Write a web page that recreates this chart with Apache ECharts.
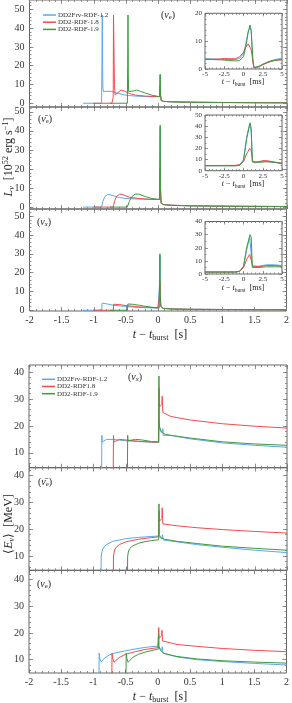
<!DOCTYPE html>
<html><head><meta charset="utf-8">
<script src="https://cdn.jsdelivr.net/npm/echarts@6/dist/echarts.min.js"></script>
<style>html,body{margin:0;padding:0;background:#fff}#c{width:292px;height:703px}</style>
</head><body><div id="c"></div>
<script>
// ---------- tick labels ----------
const xTicks = [-2, -1.5, -1, -0.5, 0, 0.5, 1, 1.5, 2];
const lumTicks = [0, 10, 20, 30, 40, 50];
const enTicks = [10, 20, 30, 40];
const insetXTicks = [-5, -2.5, 0, 2.5, 5];
const inset1YTicks = [0, 10, 20];
const inset2YTicks = [0, 10, 20, 30, 40, 50];
const inset3YTicks = [0, 10, 20, 30, 40];
const namesTop = ['DD2Frv-RDF-1.2', 'DD2-RDF-1.8', 'DD2-RDF-1.9'];
const namesBot = ['DD2Frv-RDF-1.2', 'DD2-RDF1.8', 'DD2-RDF-1.9'];

// ---------- luminosity nu_e [t(s), L] ----------
const lumNueBlue = [[-1.17,0],[-0.88,0],[-0.875,20],[-0.87,47],[-0.865,20],[-0.86,8],[-0.85,6.2],[-0.83,6],[-0.8,6.4],[-0.77,6.7],[-0.72,6.3],[-0.65,5.5],[-0.55,4.6],[-0.45,4.1],[-0.35,3.8],[-0.2,3.6],[-0.05,3.5],[0.02,3.5],[0.025,10],[0.03,15],[0.035,5],[0.045,1.5],[0.08,1],[0.2,0.8],[0.5,0.6],[1,0.4],[1.5,0.3],[2,0.25]];
const lumNueRed = [[-1.01,0],[-0.72,0],[-0.70,3],[-0.695,47],[-0.685,47],[-0.68,10],[-0.67,4.5],[-0.63,5.5],[-0.58,7],[-0.53,6.5],[-0.45,5.2],[-0.35,4.3],[-0.2,3.8],[0.02,3.5],[0.025,6],[0.03,9],[0.035,4],[0.045,1.5],[0.08,1],[0.2,0.8],[0.5,0.6],[1,0.4],[1.5,0.3],[2,0.25]];
const lumNueGreen = [[-0.75,0],[-0.48,0],[-0.475,20],[-0.47,47],[-0.465,15],[-0.46,6.2],[-0.43,6],[-0.38,6.6],[-0.34,7],[-0.28,6.4],[-0.2,5.4],[-0.1,4.3],[0.02,3.5],[0.025,10],[0.03,15.5],[0.035,5],[0.045,1.5],[0.08,1],[0.2,0.7],[0.5,0.5],[1,0.35],[1.5,0.25],[2,0.2]];
// ---------- luminosity anti nu_e ----------
const lumAnueBlue = [[-1.17,0],[-0.88,0],[-0.86,3],[-0.83,5.5],[-0.79,6.5],[-0.75,6.5],[-0.7,6],[-0.6,5],[-0.5,4.5],[-0.3,4.2],[0.02,4],[0.025,20],[0.03,42],[0.035,10],[0.045,2],[0.08,1.3],[0.2,1],[0.5,0.7],[1,0.5],[1.5,0.4],[2,0.3]];
const lumAnueRed = [[-1.01,0],[-0.70,0],[-0.68,3],[-0.65,5.5],[-0.6,6.8],[-0.55,6.5],[-0.45,5.2],[-0.3,4.5],[-0.1,4],[0.02,4],[0.025,12],[0.03,20],[0.035,6],[0.045,2],[0.08,1.3],[0.2,1],[0.5,0.7],[1,0.5],[1.5,0.4],[2,0.3]];
const lumAnueGreen = [[-0.75,0],[-0.48,0],[-0.45,3],[-0.41,5.5],[-0.36,6.8],[-0.3,6.8],[-0.2,5.5],[-0.1,4.5],[0.02,4],[0.025,25],[0.03,43],[0.035,10],[0.045,2],[0.08,1.3],[0.2,0.9],[0.5,0.6],[1,0.45],[1.5,0.35],[2,0.3]];
// ---------- luminosity nu_x ----------
const lumNuxBlue = [[-1.17,0],[-0.875,0],[-0.87,3.8],[-0.8,3.4],[-0.7,2.7],[-0.5,2],[-0.3,1.5],[0,1.1],[0.02,1.1],[0.025,15],[0.03,29],[0.035,8],[0.045,2],[0.08,1],[0.2,0.7],[0.5,0.5],[1,0.4],[1.5,0.3],[2,0.25]];
const lumNuxRed = [[-1.01,0],[-0.695,0],[-0.69,3.2],[-0.6,3],[-0.5,2.5],[-0.3,1.8],[0,1.3],[0.02,1.3],[0.025,8],[0.03,15],[0.035,5],[0.045,2],[0.08,1],[0.2,0.7],[0.5,0.5],[1,0.4],[1.5,0.3],[2,0.25]];
const lumNuxGreen = [[-0.75,0],[-0.475,0],[-0.47,3.3],[-0.4,3.2],[-0.3,2.7],[-0.2,2.1],[-0.1,1.6],[0.02,1.3],[0.025,15],[0.03,30],[0.035,8],[0.045,2],[0.08,1],[0.2,0.7],[0.5,0.5],[1,0.4],[1.5,0.3],[2,0.25]];

// ---------- insets [t(ms), L] ----------
const insNueBlue = [[-5,3.7],[-4,3.6],[-3,3.5],[-2,3.4],[-1,3.4],[-0.5,3.8],[0,5.5],[0.3,9],[0.6,13.5],[0.85,15],[1.0,13.5],[1.1,8],[1.2,3],[1.35,0.5],[1.6,0.4],[2,0.9],[2.5,1.7],[3,2.4],[3.5,2.9],[4,3.3],[4.5,3.6],[5,3.8]];
const insNueRed = [[-5,3.4],[-4,3.5],[-3,3.6],[-2.5,3.8],[-2,3.7],[-1,3.7],[-0.5,4.4],[0,6],[0.3,7.8],[0.6,9],[0.85,8.5],[1.0,7],[1.15,4],[1.3,1.2],[1.5,0.3],[2,0.8],[2.5,1.5],[3,2.1],[3.5,2.6],[4,3],[4.5,3.2],[5,3.3]];
const insNueGreen = [[-5,3.5],[-4,3.4],[-3,3.3],[-2,3.1],[-1,2.9],[-0.5,3],[0,4.5],[0.3,8],[0.6,13],[0.85,15.8],[1.0,14],[1.1,9],[1.2,4],[1.35,0.4],[1.6,0.5],[2,1],[2.5,1.7],[3,2.3],[3.5,2.8],[4,3.1],[4.5,3.3],[5,3.4]];
const insAnueBlue = [[-5,4.5],[-3,4.5],[-1,4.6],[-0.5,5],[0,10],[0.4,30],[0.8,42],[1.0,35],[1.15,8],[1.3,7],[2,8],[2.5,8.5],[3,8.3],[4,7.5],[5,6.5]];
const insAnueRed = [[-5,4.5],[-3,4.7],[-1,4.8],[-0.5,5.5],[0,8],[0.4,15],[0.8,20],[1.0,18],[1.2,9],[1.4,7],[2,8.2],[2.7,9.2],[3.5,8.5],[4,7.8],[5,6.8]];
const insAnueGreen = [[-5,4.5],[-3,4.4],[-1,4.3],[-0.5,4.8],[0,9],[0.4,28],[0.85,43],[1.0,38],[1.15,8],[1.3,6.5],[2,7.5],[3,8],[4,7.5],[5,6.5]];
const insNuxBlue = [[-5,1.5],[-3,1.5],[-1,1.5],[-0.5,2],[0,5],[0.4,18],[0.8,28],[1.0,28],[1.15,6],[1.4,5.5],[2,6],[3,7],[4,7],[5,6.5]];
const insNuxRed = [[-5,1.5],[-3,1.5],[-1,1.6],[-0.5,2],[0,5],[0.5,12],[0.8,15],[1.0,14],[1.2,6],[1.4,5],[2,5.5],[3,6.5],[4,6.5],[5,6]];
const insNuxGreen = [[-5,1.5],[-3,1.5],[-1,1.5],[-0.5,2.2],[0,6],[0.4,20],[0.85,30],[1.0,28],[1.15,5],[1.4,4.5],[2,5],[3,5.5],[4,5.5],[5,5.5]];

// ---------- mean energies [t(s), E(MeV)] ----------
const enNuxBlue = [[-0.875,0],[-0.87,16.5],[-0.865,14],[-0.85,14.3],[-0.8,15],[-0.7,15],[-0.5,14.5],[-0.3,14.2],[-0.1,14],[0.01,14],[0.015,21],[0.02,20],[0.04,18.5],[0.07,17.5],[0.075,19],[0.08,16.5],[0.1,17],[0.2,16.5],[0.5,15.2],[1,13.7],[1.5,12.8],[2,12.1]];
const enNuxRed = [[-0.695,0],[-0.69,16.5],[-0.685,14],[-0.67,14.5],[-0.6,15],[-0.5,14.8],[-0.3,14.3],[-0.1,14],[0.01,14],[0.015,34],[0.02,27],[0.04,27.5],[0.06,28],[0.065,31],[0.075,25],[0.1,24.5],[0.2,23.5],[0.5,22.2],[1,20.8],[1.5,19.9],[2,19.2]];
const enNuxGreen = [[-0.475,0],[-0.47,16.5],[-0.465,14.5],[-0.45,14.5],[-0.35,15],[-0.25,14.8],[-0.1,14.2],[0.01,14],[0.015,38.5],[0.02,20],[0.04,18],[0.1,17],[0.2,16.5],[0.5,15.5],[1,14.1],[1.5,13.3],[2,12.8]];
const enAnueBlue = [[-0.885,0],[-0.88,10],[-0.87,11.5],[-0.85,13],[-0.8,14.3],[-0.7,15.5],[-0.5,16.5],[-0.3,17],[0,17.5],[0.015,18],[0.03,17.5],[0.06,16.5],[0.07,18],[0.08,16],[0.15,15.8],[0.3,15.3],[0.6,14.3],[1,13.3],[1.5,12.2],[2,11.3]];
const enAnueRed = [[-0.695,0],[-0.69,10],[-0.68,11.5],[-0.66,13],[-0.6,14.3],[-0.5,15.3],[-0.3,16.3],[-0.1,16.9],[0.01,17.2],[0.015,27],[0.02,23],[0.04,23.5],[0.06,24],[0.065,28],[0.075,22],[0.1,21.8],[0.3,21.3],[0.6,20.6],[1,19.9],[1.5,19.2],[2,18.6]];
const enAnueGreen = [[-0.475,0],[-0.47,10],[-0.46,11.5],[-0.44,12.8],[-0.4,13.7],[-0.3,14.8],[-0.2,15.4],[-0.1,15.8],[0.01,16.1],[0.015,29.5],[0.02,18],[0.04,17],[0.1,16.3],[0.3,15.5],[0.6,14.7],[1,13.7],[1.5,12.9],[2,12.2]];
const enNueBlue = [[-0.915,0],[-0.91,12.5],[-0.9,10.5],[-0.88,9.2],[-0.86,9.5],[-0.82,10.7],[-0.75,11.8],[-0.65,12.6],[-0.5,13.3],[-0.35,14],[-0.2,14.6],[0,15.1],[0.015,15.5],[0.03,14.5],[0.06,13.5],[0.07,14.8],[0.08,12.5],[0.1,12.2],[0.3,11],[0.6,10],[1,9.3],[1.5,8.6],[2,8]];
const enNueRed = [[-0.715,0],[-0.71,12.5],[-0.7,10.5],[-0.68,9],[-0.65,9.6],[-0.6,10.8],[-0.5,12],[-0.35,13],[-0.2,13.8],[0,14.5],[0.01,14.6],[0.015,22],[0.02,18],[0.04,18.5],[0.06,19],[0.065,21],[0.075,17],[0.1,16.5],[0.3,15.7],[0.6,15],[1,14.2],[1.5,13.5],[2,13]];
const enNueGreen = [[-0.495,0],[-0.49,12.5],[-0.48,10.5],[-0.46,9],[-0.43,9.8],[-0.38,11],[-0.3,12],[-0.2,12.8],[-0.1,13.4],[0.01,14],[0.015,19.5],[0.02,15],[0.04,13.5],[0.1,12.3],[0.3,11.2],[0.6,10.3],[1,9.6],[1.5,9.1],[2,8.7]];

const BLUE = '#5aa8ee', RED = '#ee4d4d', GREEN = '#3f9a3f';
const FONT = 'Liberation Serif';

function steps(a, b, s) { const r = []; for (let v = a; v <= b + 1e-9; v += s) r.push(Math.round(v * 1000) / 1000); return r; }

const grids = [], xAxis = [], yAxis = [], series = [];
function axisDef(gi, pos, min, max, ticks, len, labels, fs, margin) {
  return {
    type: 'value', gridIndex: gi, position: pos, min: min, max: max,
    axisLine: { show: false, onZero: false },
    splitLine: { show: false },
    axisTick: { show: true, inside: true, length: len, customValues: ticks, lineStyle: { color: '#777', width: 0.8 } },
    axisLabel: labels ? { show: true, customValues: labels, fontFamily: FONT, fontSize: fs, color: '#333', margin: margin } : { show: false }
  };
}
function panel(p) {
  const gi = grids.length;
  grids.push({ left: p.left, top: p.top, width: p.width, height: p.height, show: true,
    borderColor: '#666', borderWidth: 1, backgroundColor: p.inset ? '#fff' : 'transparent', containLabel: false });
  const xMin = p.xMinor.filter(v => v > p.xmin - 1e-9 && v < p.xmax + 1e-9);
  const yMin = p.yMinor.filter(v => v > p.ymin - 1e-9 && v < p.ymax + 1e-9);
  const xi = xAxis.length, yi = yAxis.length;
  xAxis.push(axisDef(gi, 'bottom', p.xmin, p.xmax, p.xMajor, p.majLen, p.xLabels ? p.xMajor : null, p.fs, p.xMargin));
  xAxis.push(axisDef(gi, 'bottom', p.xmin, p.xmax, xMin, p.minLen, null));
  xAxis.push(axisDef(gi, 'top', p.xmin, p.xmax, p.xMajor, p.majLen, null));
  xAxis.push(axisDef(gi, 'top', p.xmin, p.xmax, xMin, p.minLen, null));
  yAxis.push(axisDef(gi, 'left', p.ymin, p.ymax, p.yMajor, p.majLen, p.yMajor, p.fs, p.yMargin));
  yAxis.push(axisDef(gi, 'left', p.ymin, p.ymax, yMin, p.minLen, null));
  yAxis.push(axisDef(gi, 'right', p.ymin, p.ymax, p.yMajor, p.majLen, null));
  yAxis.push(axisDef(gi, 'right', p.ymin, p.ymax, yMin, p.minLen, null));
  const cols = [BLUE, RED, GREEN];
  p.data.forEach((d, k) => {
    series.push({ type: 'line', name: p.names[k], data: d, xAxisIndex: xi, yAxisIndex: yi,
      symbol: 'none', showSymbol: false, clip: true, animation: false, silent: true,
      lineStyle: { color: cols[k], width: 1 }, itemStyle: { color: cols[k] }, z: p.inset ? 6 : 2 });
  });
}
const mainX = { xmin: -2, xmax: 2, xMajor: xTicks, xMinor: steps(-2, 2, 0.1), majLen: 4, minLen: 2, fs: 10, xMargin: 4, yMargin: 5 };
const insX = { xmin: -5, xmax: 5, xMajor: insetXTicks, xMinor: steps(-5, 5, 0.5), majLen: 3, minLen: 1.5, fs: 7, xMargin: 2, yMargin: 3, xLabels: true, inset: true, left: 205, width: 77 };

// top figure
panel(Object.assign({}, mainX, { left: 29.5, width: 257.5, top: 0, height: 107, ymin: -2, ymax: 55, yMajor: lumTicks, yMinor: steps(0, 54, 2), data: [lumNueBlue, lumNueRed, lumNueGreen], names: namesTop }));
panel(Object.assign({}, mainX, { left: 29.5, width: 257.5, top: 107, height: 102, ymin: -1, ymax: 52.5, yMajor: lumTicks, yMinor: steps(0, 52, 2), data: [lumAnueBlue, lumAnueRed, lumAnueGreen], names: namesTop }));
panel(Object.assign({}, mainX, { left: 29.5, width: 257.5, top: 209, height: 102, ymin: -0.4, ymax: 53.8, yMajor: lumTicks, yMinor: steps(0, 52, 2), xLabels: true, data: [lumNuxBlue, lumNuxRed, lumNuxGreen], names: namesTop }));
// insets
panel(Object.assign({}, insX, { top: 13.3, height: 55.7, ymin: 0, ymax: 20, yMajor: inset1YTicks, yMinor: steps(0, 20, 2), data: [insNueBlue, insNueRed, insNueGreen], names: namesTop }));
panel(Object.assign({}, insX, { top: 115, height: 55.7, ymin: 0, ymax: 50, yMajor: inset2YTicks, yMinor: steps(0, 50, 5), data: [insAnueBlue, insAnueRed, insAnueGreen], names: namesTop }));
panel(Object.assign({}, insX, { top: 221.5, height: 52.5, ymin: 0, ymax: 40, yMajor: inset3YTicks, yMinor: steps(0, 40, 5), data: [insNuxBlue, insNuxRed, insNuxGreen], names: namesTop }));
// bottom figure
panel(Object.assign({}, mainX, { left: 29, width: 258, top: 365, height: 102.7, ymin: 4.5, ymax: 42.6, yMajor: enTicks, yMinor: steps(6, 42, 2), data: [enNuxBlue, enNuxRed, enNuxGreen], names: namesBot }));
panel(Object.assign({}, mainX, { left: 29, width: 258, top: 467.7, height: 102.6, ymin: 4.7, ymax: 43, yMajor: enTicks, yMinor: steps(6, 42, 2), data: [enAnueBlue, enAnueRed, enAnueGreen], names: namesBot }));
panel(Object.assign({}, mainX, { left: 29, width: 258, top: 570.3, height: 102.7, ymin: 5, ymax: 43.5, yMajor: enTicks, yMinor: steps(6, 42, 2), xLabels: true, data: [enNueBlue, enNueRed, enNueGreen], names: namesBot }));

const rich = (fs) => ({
  n: { fontFamily: FONT, fontSize: fs, lineHeight: fs + 2, color: '#222' },
  i: { fontFamily: FONT, fontStyle: 'italic', fontSize: fs, lineHeight: fs + 2, color: '#222' },
  s: { fontFamily: FONT, fontSize: fs * 0.68, lineHeight: fs * 0.68, verticalAlign: 'bottom', color: '#222' },
  si: { fontFamily: FONT, fontStyle: 'italic', fontSize: fs * 0.68, lineHeight: fs * 0.68, verticalAlign: 'bottom', color: '#222' },
  p: { fontFamily: FONT, fontSize: fs * 0.68, lineHeight: fs * 0.68, verticalAlign: 'top', color: '#222' }
});
function txt(x, y, text, fs, rot) {
  return { type: 'text', x: x, y: y, rotation: rot || 0, z: 20, silent: true,
    style: { text: text, rich: rich(fs), align: 'center', verticalAlign: 'middle', fill: '#222' } };
}
const tTitle = '{i|t}{n| − }{i|t}{s|burst}{n|  [s]}';
const tTitleMs = '{i|t}{n| − }{i|t}{s|burst}{n|  [ms]}';
const graphic = [
  txt(168, 15, '{n|(}{i|ν}{s|e}{n|)}', 10),
  txt(45, 119, '{n|(}{i|ν\u0304}{s|e}{n|)}', 10),
  txt(44, 222, '{n|(}{i|ν}{si|x}{n|)}', 10),
  txt(135, 377, '{n|(}{i|ν}{si|x}{n|)}', 10),
  txt(45, 482, '{n|(}{i|ν\u0304}{s|e}{n|)}', 10),
  txt(44, 584, '{n|(}{i|ν}{s|e}{n|)}', 10),
  txt(160, 335, tTitle, 12),
  txt(160, 697, tTitle, 12),
  txt(243, 82, tTitleMs, 8),
  txt(243, 184, tTitleMs, 8),
  txt(243, 288, tTitleMs, 8),
  txt(9, 157, '{i|L}{si|ν}{n|  [10}{p|52}{n| erg s}{p|−1}{n|]}', 12, Math.PI / 2),
  txt(9, 524, '{n|⟨}{i|E}{si|ν}{n|⟩  [MeV]}', 12, Math.PI / 2)
];
const legendBase = { orient: 'vertical', icon: 'rect', itemWidth: 13, itemHeight: 1.5, itemGap: 0.2,
  textStyle: { fontFamily: FONT, fontSize: 7, lineHeight: 7, color: '#333', padding: [0, 0, 0, -3] }, selectedMode: false };
const chart = echarts.init(document.getElementById('c'), null, { renderer: 'canvas' });
chart.setOption({
  animation: false,
  grid: grids, xAxis: xAxis, yAxis: yAxis, series: series, graphic: graphic,
  legend: [
    Object.assign({}, legendBase, { left: 38, top: 6.5, data: namesTop }),
    Object.assign({}, legendBase, { left: 37, top: 370.8, data: namesBot })
  ]
});
</script></body></html>
